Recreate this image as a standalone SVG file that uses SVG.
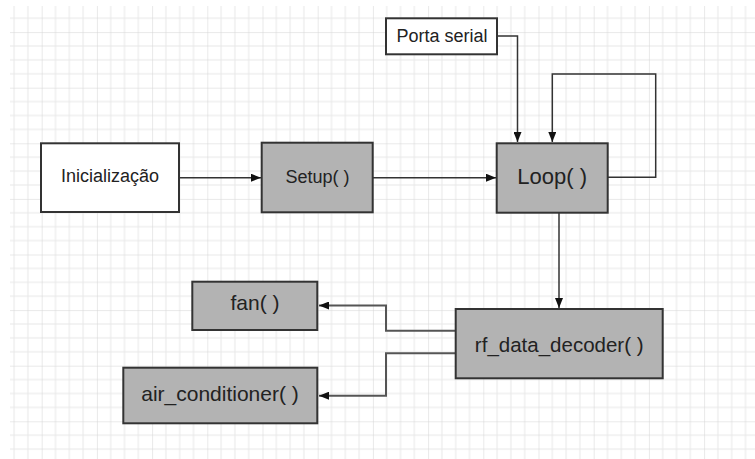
<svg xmlns="http://www.w3.org/2000/svg" width="755" height="459" viewBox="0 0 755 459">
  <defs>
    <pattern id="grid" patternUnits="userSpaceOnUse" x="-13.5" y="-23.5" width="55.2" height="55.6">
      <path d="M13.8,0 V55.6 M27.6,0 V55.6 M41.4,0 V55.6 M0,13.9 H55.2 M0,27.8 H55.2 M0,41.7 H55.2" stroke="#e8e8e8" stroke-width="1" fill="none"/>
      <path d="M0,0 V55.6 M0,0 H55.2" stroke="#d4d4d4" stroke-width="1" fill="none"/>
    </pattern>
    <marker id="arr" viewBox="0 0 10 8" refX="10" refY="4" markerWidth="10" markerHeight="8" markerUnits="userSpaceOnUse" orient="auto">
      <path d="M0,0 L10,4 L0,8 z" fill="#111"/>
    </marker>
  </defs>
  <style>
    .box { stroke: #333; stroke-width: 2; }
    .white { fill: #ffffff; }
    .gray { fill: #b3b3b3; }
    .lbl { font-family: "Liberation Sans", Arial, sans-serif; fill: #222; text-anchor: middle; }
    .conn { fill: none; stroke: #333; stroke-width: 1.5; }
    .conn2 { fill: none; stroke: #555; stroke-width: 2; }
  </style>
  <rect x="0" y="0" width="755" height="459" fill="#ffffff"/>
  <rect x="10" y="6" width="745" height="453" fill="url(#grid)"/>

  <g id="connectors">
    <path class="conn" d="M179,177.7 H261" marker-end="url(#arr)"/>
    <path class="conn" d="M372.7,177.7 H496" marker-end="url(#arr)"/>
    <path class="conn" d="M497,36 H517.5 V142" marker-end="url(#arr)"/>
    <path class="conn" d="M607.7,177.3 H655.7 V74 H552.3 V142" marker-end="url(#arr)"/>
    <path class="conn" d="M559,212.5 V308" marker-end="url(#arr)"/>
    <path class="conn2" d="M455.7,330.7 H386 V305.5 H319" marker-end="url(#arr)"/>
    <path class="conn2" d="M455.7,353.3 H386 V395.7 H319" marker-end="url(#arr)"/>
  </g>

  <g id="inicializacao">
    <rect class="box white" x="41" y="143.3" width="138" height="68.7"/>
    <text class="lbl" x="110" y="182" font-size="18">Inicialização</text>
  </g>
  <g id="setup">
    <rect class="box gray" x="261.7" y="142.7" width="111" height="69.6"/>
    <text class="lbl" x="317.5" y="182.5" font-size="18">Setup( )</text>
  </g>
  <g id="loop">
    <rect class="box gray" x="496.7" y="143.3" width="111" height="69.4"/>
    <text class="lbl" x="552.2" y="183.5" font-size="22">Loop( )</text>
  </g>
  <g id="porta-serial">
    <rect class="box white" x="386" y="18.3" width="111" height="36"/>
    <text class="lbl" x="442" y="41.5" font-size="18">Porta serial</text>
  </g>
  <g id="rf-data-decoder">
    <rect class="box gray" x="455.7" y="309" width="207" height="69.3"/>
    <text class="lbl" x="559.2" y="351.5" font-size="20.5">rf_data_decoder( )</text>
  </g>
  <g id="fan">
    <rect class="box gray" x="192.3" y="281.7" width="125" height="48.3"/>
    <text class="lbl" x="255" y="310" font-size="21">fan( )</text>
  </g>
  <g id="air-conditioner">
    <rect class="box gray" x="123.3" y="367.7" width="194" height="55.6"/>
    <text class="lbl" x="220" y="400.5" font-size="21">air_conditioner( )</text>
  </g>
</svg>
